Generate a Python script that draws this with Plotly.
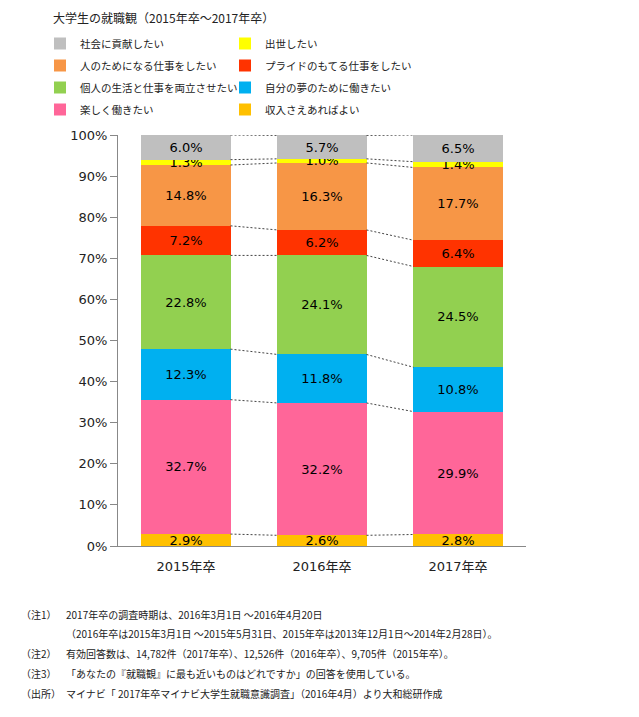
import plotly.graph_objects as go

categories = ['2015年卒', '2016年卒', '2017年卒']

# bottom to top
series_names = ['収入さえあればよい', '楽しく働きたい', '自分の夢のために働きたい',
                '個人の生活と仕事を両立させたい', 'プライドのもてる仕事をしたい',
                '人のためになる仕事をしたい', '出世したい', '社会に貢献したい']
series_values = [
    [2.9, 2.6, 2.8],
    [32.7, 32.2, 29.9],
    [12.3, 11.8, 10.8],
    [22.8, 24.1, 24.5],
    [7.2, 6.2, 6.4],
    [14.8, 16.3, 17.7],
    [1.3, 1.0, 1.4],
    [6.0, 5.7, 6.5],
]
series_colors = ['#FFC000', '#FF6699', '#00B0F0', '#92D050',
                 '#FF3300', '#F79646', '#FFFF00', '#BFBFBF']

title_text = '大学生の就職観（2015年卒～2017年卒）'
notes = [
    ('（注1）', '2017年卒の調査時期は、2016年3月1日 ～2016年4月20日'),
    ('', '（2016年卒は2015年3月1日 ～2015年5月31日、2015年卒は2013年12月1日～2014年2月28日）。'),
    ('（注2）', '有効回答数は、14,782件（2017年卒）、12,526件（2016年卒）、9,705件（2015年卒）。'),
    ('（注3）', '「あなたの『就職観』に最も近いものはどれですか」の回答を使用している。'),
    ('（出所）', 'マイナビ「 2017年卒マイナビ大学生就職意識調査」（2016年4月）より大和総研作成'),
]

JP = 'Noto Sans CJK JP'
NUM = 'DejaVu Sans, Noto Sans CJK JP'
W, H = 639, 717
ML, MR, MT, MB = 118, 113, 135, 171
BAR_W = 0.655
x_idx = list(range(len(categories)))
n = len(series_names)

fig = go.Figure()

for i, (name, vals, col) in enumerate(zip(series_names, series_values, series_colors)):
    fig.add_trace(go.Bar(
        x=x_idx, y=vals, name=name, width=BAR_W,
        marker=dict(color=col, line=dict(width=0)),
        texttemplate='%{y:.1f}%', textposition='inside',
        insidetextanchor='middle', textangle=0, constraintext='none',
        textfont=dict(color='black', size=13, family=NUM),
        legend='legend' if i % 2 else 'legend2',
        legendgroup=name, legendrank=n - i, hoverinfo='name+y',
    ))

# dashed connectors between neighbouring bars at every cumulative boundary
cum = [0.0] * len(categories)
for vals in series_values:
    cum = [c + v for c, v in zip(cum, vals)]
    for i in range(len(categories) - 1):
        fig.add_trace(go.Scatter(
            x=[i + BAR_W / 2, i + 1 - BAR_W / 2], y=[cum[i], cum[i + 1]],
            mode='lines', line=dict(color='#444444', width=1, dash='2px,2px'),
            showlegend=False, hoverinfo='skip',
        ))


def px_to_paper(px, py):
    return (px - ML) / (W - ML - MR), (H - MB - py) / (H - MT - MB)


for i, (lab, txt) in enumerate(notes):
    y_px = 614 + i * 19.8
    if lab:
        x, y = px_to_paper(19, y_px)
        fig.add_annotation(x=x, y=y, xref='paper', yref='paper', text=lab,
                           showarrow=False, xanchor='left', yanchor='middle',
                           font=dict(size=10, family=JP, color='#222'))
    x, y = px_to_paper(64, y_px)
    fig.add_annotation(x=x, y=y, xref='paper', yref='paper', text=txt,
                       showarrow=False, xanchor='left', yanchor='middle',
                       font=dict(size=10, family=JP, color='#222'))

legend_style = dict(orientation='v', xanchor='left', yanchor='top',
                    y=px_to_paper(0, 29)[1],
                    traceorder='grouped', tracegroupgap=3,
                    bgcolor='rgba(0,0,0,0)',
                    font=dict(size=10.5, family=JP, color='#222'),
                    itemclick=False, itemdoubleclick=False)

fig.update_layout(
    width=W, height=H,
    barmode='stack',
    margin=dict(l=ML, r=MR, t=MT, b=MB),
    paper_bgcolor='white', plot_bgcolor='white',
    font=dict(family=NUM, size=13, color='#222'),
    title=dict(text=title_text, x=53 / W, xanchor='left', xref='container',
               y=1 - 19 / H, yanchor='middle', yref='container',
               font=dict(size=12, family=JP, color='#222')),
    uniformtext=dict(minsize=13, mode='show'),
    legend=dict(x=px_to_paper(40, 0)[0], **legend_style),
    legend2=dict(x=px_to_paper(225, 0)[0], **legend_style),
    xaxis=dict(range=[-0.5, 2.5], tickvals=x_idx, ticktext=categories,
               showline=True, linecolor='#888888', linewidth=1,
               ticks='', ticklabelstandoff=8, showgrid=False, zeroline=False,
               tickfont=dict(size=13, family=NUM), fixedrange=True),
    yaxis=dict(range=[0, 100], dtick=10, ticksuffix='%',
               showline=True, linecolor='#888888', linewidth=1,
               ticks='outside', ticklen=7, tickcolor='#888888',
               showgrid=False, zeroline=False,
               tickfont=dict(size=13, family=NUM), fixedrange=True),
)

fig.write_html('out.html', config={'displayModeBar': False},
               post_script="document.body.style.margin='0';")
